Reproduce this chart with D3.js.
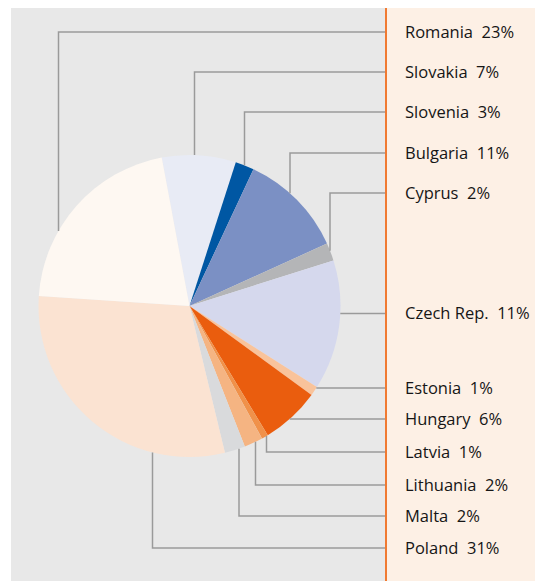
<!DOCTYPE html>
<html>
<head>
<meta charset="utf-8">
<script src="https://cdn.jsdelivr.net/npm/d3@7"></script>
<style>
  html, body { margin: 0; padding: 0; background: #fff; }
  svg { display: block; }
  .label { font-family: "Open Sans", "Noto Sans", sans-serif; font-size: 16.5px; fill: #161616; }
</style>
</head>
<body>
<div id="chart"></div>
<script>
// Countries, in clockwise order starting at the top of the pie
const countries = ["Slovakia", "Slovenia", "Bulgaria", "Cyprus", "Czech Rep.", "Estonia",
                   "Hungary", "Latvia", "Lithuania", "Malta", "Poland", "Romania"];
// Slice sizes as drawn (share of the circle, %)
const shares = [7.9, 2.0, 11.25, 1.9, 13.9, 1.0, 6.3, 0.7, 2.0, 2.2, 29.8, 21.0];
// Percentages printed in the labels
const labelPct = [7, 3, 11, 2, 11, 1, 6, 1, 2, 2, 31, 23];
const colors = ["#e8ebf5", "#0057a3", "#7b90c4", "#b4b5b7", "#d5d8ed", "#f9c39b",
                "#ea5d0e", "#f0914a", "#f5b482", "#d9dadc", "#fbe3d2", "#fef8f2"];

// Label column order (top to bottom)
const labelOrder = ["Romania", "Slovakia", "Slovenia", "Bulgaria", "Cyprus", "Czech Rep.",
                    "Estonia", "Hungary", "Latvia", "Lithuania", "Malta", "Poland"];
const labelY = [32, 72, 112, 153, 193, 313.5, 388, 419, 452, 485, 516, 548];
// x of the vertical part of each leader (null = straight horizontal leader)
const elbowX = [58.5, 194.5, 244.5, 290, 330, null, null, null, 266.5, 255.5, 239, 152.5];

const W = 535, H = 581;
const cx = 189.5, cy = 306, r = 151;
const dividerX = 386;

const svg = d3.select("#chart").append("svg")
    .attr("width", W).attr("height", H);

// Panels
svg.append("rect").attr("x", 11).attr("y", 8).attr("width", dividerX - 11).attr("height", H - 8)
    .attr("fill", "#e8e8e8");
svg.append("rect").attr("x", dividerX).attr("y", 8).attr("width", W - dividerX).attr("height", H - 8)
    .attr("fill", "#fdf0e5");

// Pie
const pie = d3.pie().sort(null).value(d => d.share)
    .startAngle(-10.6 * Math.PI / 180)
    .endAngle((360 - 10.6) * Math.PI / 180);
const arc = d3.arc().innerRadius(0).outerRadius(r);
const slices = countries.map((c, i) => ({ name: c, share: shares[i], pct: labelPct[i], color: colors[i] }));

svg.append("g").attr("transform", `translate(${cx},${cy})`)
    .selectAll("path")
    .data(pie(slices))
    .join("path")
    .attr("d", arc)
    .attr("fill", d => d.data.color);

// Leader lines
const leaders = labelOrder.map((name, i) => {
    const ly = labelY[i];
    const ex = elbowX[i];
    let pts;
    if (ex === null) {
        const ax = cx + Math.sqrt(r * r - (ly - cy) * (ly - cy));
        pts = [[ax, ly], [dividerX, ly]];
    } else {
        const sign = ly < cy ? -1 : 1;
        const ay = cy + sign * Math.sqrt(r * r - (ex - cx) * (ex - cx));
        pts = [[ex, ay], [ex, ly], [dividerX, ly]];
    }
    return pts;
});

svg.append("g").selectAll("path")
    .data(leaders)
    .join("path")
    .attr("d", d3.line())
    .attr("fill", "none")
    .attr("stroke", "#9a9a9a")
    .attr("stroke-width", 1.5);

// Divider
svg.append("line")
    .attr("x1", dividerX).attr("x2", dividerX)
    .attr("y1", 8).attr("y2", H)
    .attr("stroke", "#f07a32").attr("stroke-width", 2);

// Labels
svg.append("g").selectAll("text")
    .data(labelOrder)
    .join("text")
    .attr("class", "label")
    .attr("x", 405)
    .attr("y", (d, i) => labelY[i])
    .attr("dy", "0.35em")
    .attr("xml:space", "preserve")
    .text(d => `${d}  ${labelPct[countries.indexOf(d)]}%`);
</script>
</body>
</html>
